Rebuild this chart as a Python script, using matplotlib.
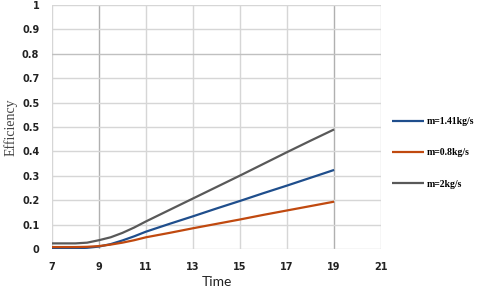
import numpy as np
import matplotlib.pyplot as plt

# hours of the day (half hours where the curves bend)
hours = [7, 8, 8.5, 9, 9.5, 10, 10.5, 11, 12, 13, 14, 15, 16, 17, 18, 19]

# efficiency
eff_141 = [0.002, 0.003, 0.005, 0.010, 0.020, 0.035, 0.052, 0.071, 0.103, 0.134, 0.166, 0.197, 0.229, 0.260, 0.292, 0.324]
eff_08 = [0.008, 0.008, 0.009, 0.012, 0.018, 0.026, 0.036, 0.048, 0.066, 0.085, 0.103, 0.121, 0.140, 0.158, 0.176, 0.194]
eff_2 = [0.023, 0.023, 0.026, 0.036, 0.048, 0.066, 0.088, 0.113, 0.160, 0.207, 0.254, 0.301, 0.349, 0.397, 0.444, 0.490]

series_labels = ['m=1.41kg/s', 'm=0.8kg/s', 'm=2kg/s']
series_colors = ['#1f4e8c', '#c0490f', '#595959']

x_ticks = [7, 9, 11, 13, 15, 17, 19, 21]
y_ticks = [0, 0.1, 0.2, 0.3, 0.4, 0.5, 0.6, 0.7, 0.8, 0.9, 1.0]
y_tick_labels = ['0', '0.1', '0.2', '0.3', '0.4', '0.5', '0.5', '0.7', '0.8', '0.9', '1']

fig = plt.figure(figsize=(4.8, 2.97), dpi=100)
ax = fig.add_axes([0.108, 0.1616, 0.686, 0.8215])

# grid drawn by hand so a few lines can be darker, like the source
for xv in x_ticks:
    c = '#b0b0b0' if xv in (9, 19) else '#d6d6d6'
    ax.axvline(xv, color=c, lw=1.0, zorder=0)
for yv in y_ticks:
    c = '#c0c0c0' if yv in (0.8,) else '#d6d6d6'
    ax.axhline(yv, color=c, lw=1.0, zorder=0)

for ys, lab, col in zip([eff_141, eff_08, eff_2], series_labels, series_colors):
    ax.plot(hours, ys, color=col, lw=1.6, label=lab, solid_capstyle='butt')

ax.set_xlim(7, 21)
ax.set_ylim(0, 1)
ax.set_xticks(x_ticks)
ax.set_yticks(y_ticks)
ax.set_yticklabels(y_tick_labels)
for s in ax.spines.values():
    s.set_visible(False)
ax.tick_params(length=0, labelsize=7, colors='#222222', pad=9)
for t in ax.get_xticklabels() + ax.get_yticklabels():
    t.set_fontweight('bold')

ax.set_xlabel('Time', fontsize=10, family='Lato', color='#222222', labelpad=3)
ax.set_ylabel('Efficiency', fontsize=10, family='Liberation Serif', color='#444444', labelpad=3)

leg = fig.legend(loc='center left', bbox_to_anchor=(0.817, 0.485), frameon=False,
                 borderpad=0, borderaxespad=0, handlelength=3.3, handletextpad=0.3,
                 labelspacing=2.3, prop={'family': 'Liberation Serif', 'weight': 'bold', 'size': 7})

fig.savefig('out.png', dpi=100)
